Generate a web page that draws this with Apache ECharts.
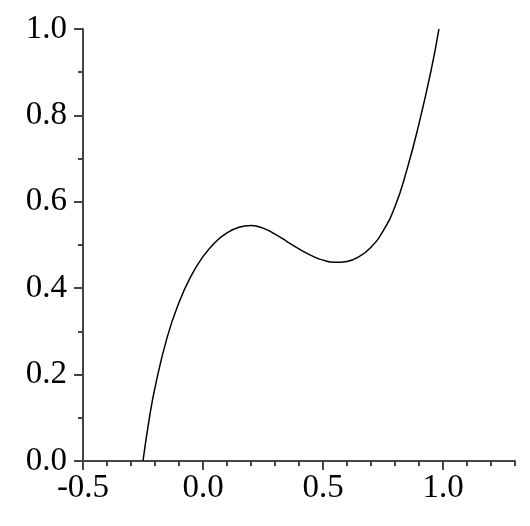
<!DOCTYPE html>
<html>
<head>
<meta charset="utf-8">
<script src="https://cdn.jsdelivr.net/npm/echarts@6/dist/echarts.min.js"></script>
<style>html,body{margin:0;padding:0;background:#fff;}#c{width:530px;height:526px;}</style>
</head>
<body>
<div id="c"></div>
<script>
// Curve points
var xValues = [-0.25, -0.225, -0.2, -0.15, -0.1, -0.05, 0.0, 0.05, 0.1, 0.15, 0.2, 0.25, 0.3, 0.35, 0.4, 0.45, 0.5, 0.55, 0.6, 0.65, 0.7, 0.75, 0.8, 0.85, 0.9, 0.95, 0.983];
var yValues = [0.0, 0.094, 0.170, 0.285, 0.367, 0.428, 0.473, 0.506, 0.528, 0.541, 0.545, 0.539, 0.525, 0.508, 0.491, 0.476, 0.465, 0.460, 0.462, 0.473, 0.495, 0.532, 0.589, 0.675, 0.781, 0.903, 1.0];
var xTickLabels = [-0.5, 0.0, 0.5, 1.0];
var yTickLabels = [0.0, 0.2, 0.4, 0.6, 0.8, 1.0];

var pts = xValues.map(function (x, i) { return [x, yValues[i]]; });
var font = {fontFamily: '"Liberation Serif", "Times New Roman", Times, serif', fontSize: 33, color: '#000'};
var axisCol = '#444';

var chart = echarts.init(document.getElementById('c'), null, {renderer: 'canvas'});
chart.setOption({
  animation: false,
  backgroundColor: '#fff',
  grid: {left: 83, right: 15, top: 29, bottom: 65},
  xAxis: [{
    type: 'value', min: -0.5, max: 1.3, interval: 0.5,
    axisLine: {show: true, onZero: false, lineStyle: {color: axisCol, width: 2}},
    axisTick: {show: true, length: 9, customValues: xTickLabels, lineStyle: {color: axisCol, width: 2}},
    axisLabel: Object.assign({margin: 11, customValues: xTickLabels, formatter: function (v) { return v.toFixed(1); }}, font),
    splitLine: {show: false}
  }, {
    type: 'value', min: -0.5, max: 1.3, interval: 0.1, position: 'bottom',
    axisLine: {show: false},
    axisTick: {show: true, length: 5, lineStyle: {color: axisCol, width: 2}},
    axisLabel: {show: false},
    splitLine: {show: false}
  }],
  yAxis: {
    type: 'value', min: 0, max: 1, interval: 0.2,
    axisLine: {show: true, onZero: false, lineStyle: {color: axisCol, width: 2}},
    axisTick: {show: true, length: 9, lineStyle: {color: axisCol, width: 2}},
    minorTick: {show: true, splitNumber: 2, length: 5, lineStyle: {color: axisCol, width: 2}},
    axisLabel: Object.assign({margin: 16, customValues: yTickLabels, formatter: function (v) { return v.toFixed(1); }}, font),
    splitLine: {show: false}
  },
  series: [{
    type: 'line', xAxisIndex: 0, data: pts, showSymbol: false, smooth: 0.5,
    lineStyle: {color: '#000', width: 1.5}
  }]
});
</script>
</body>
</html>
